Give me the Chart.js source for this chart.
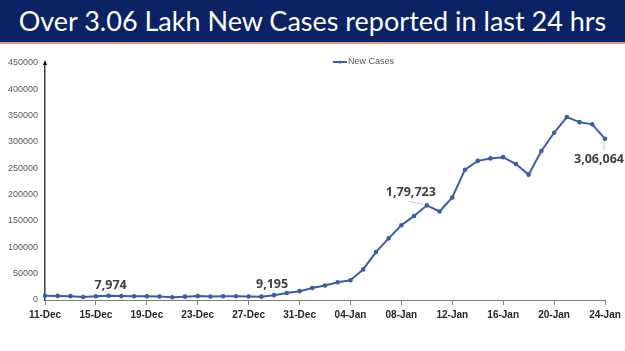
<!DOCTYPE html>
<html>
<head>
<meta charset="utf-8">
<script src="https://cdn.jsdelivr.net/npm/chart.js@4/dist/chart.umd.min.js"></script>
<style>
  body { margin:0; width:625px; height:351px; background:#fff; overflow:hidden; }
  #banner { position:absolute; left:0; top:0; width:625px; height:42px; background:#0b2265;
    border-bottom:2px solid #e39b7d; color:#fff; font-family:Lato, sans-serif; font-size:27px;
    line-height:42px; text-align:center; white-space:nowrap; }
  #box { position:absolute; left:0; top:44px; width:625px; height:307px; }
</style>
</head>
<body>
<div id="banner">Over 3.06 Lakh New Cases reported in last 24 hrs</div>
<div id="box"><canvas id="c"></canvas></div>
<script>
// dates, one per day
var dates = ['11-Dec','12-Dec','13-Dec','14-Dec','15-Dec','16-Dec','17-Dec','18-Dec','19-Dec','20-Dec',
  '21-Dec','22-Dec','23-Dec','24-Dec','25-Dec','26-Dec','27-Dec','28-Dec','29-Dec','30-Dec','31-Dec',
  '01-Jan','02-Jan','03-Jan','04-Jan','05-Jan','06-Jan','07-Jan','08-Jan','09-Jan','10-Jan','11-Jan',
  '12-Jan','13-Jan','14-Jan','15-Jan','16-Jan','17-Jan','18-Jan','19-Jan','20-Jan','21-Jan','22-Jan',
  '23-Jan','24-Jan']
var newCases = [7992,7774,7350,5784,6984,7974,7447,7145,7081,6563,
  5326,6317,7495,6650,7189,6987,6531,6358,9195,13154,16764,
  22775,27553,33750,37379,58097,90928,117100,141986,159632,179723,168063,
  194720,247417,264202,268833,271202,258089,238018,282970,317532,347254,337704,
  333533,306064]
// called-out points
var calloutIdx = [5,18,30,44]
var calloutText = ['7,974','9,195','1,79,723','3,06,064']

var blue = '#3d5ca8'

var extras = {
  id:'extras',
  afterDraw:function(chart){
    var ctx = chart.ctx, x = chart.scales.x, y = chart.scales.y, a = chart.chartArea
    ctx.save()
    // arrow at top of value axis
    ctx.fillStyle = '#000'
    ctx.beginPath()
    ctx.moveTo(a.left, a.top-3); ctx.lineTo(a.left-2, a.top+2); ctx.lineTo(a.left+2, a.top+2)
    ctx.closePath(); ctx.fill()
    // legend
    var lx = 333, ly = 18
    ctx.strokeStyle = blue; ctx.lineWidth = 2
    ctx.beginPath(); ctx.moveTo(lx, ly); ctx.lineTo(lx+14, ly); ctx.stroke()
    ctx.fillStyle = blue
    ctx.beginPath(); ctx.arc(lx+7, ly, 1.5, 0, Math.PI*2); ctx.fill()
    ctx.fillStyle = '#595959'; ctx.font = '9px "Liberation Sans"'
    ctx.textBaseline = 'middle'; ctx.textAlign = 'left'
    ctx.fillText(chart.data.datasets[0].label, lx+15, ly)
    // data callouts
    var offs = [[2,-10],[-2,-11],[-16,-13],[-6,21]]
    ctx.font = 'bold 12.5px "Open Sans"'; ctx.textAlign = 'center'
    calloutIdx.forEach(function(idx, i){
      var px = x.getPixelForValue(idx), py = y.getPixelForValue(newCases[idx])
      var tx = px + offs[i][0], ty = py + offs[i][1]
      if (i >= 2) {
        ctx.strokeStyle = '#c8c8c8'; ctx.lineWidth = 1
        ctx.beginPath()
        if (i == 2) { ctx.moveTo(tx-2, ty+9); ctx.lineTo(px-3, py-1) }
        else { ctx.moveTo(tx+5, ty-9); ctx.lineTo(px-1, py+2) }
        ctx.stroke()
      }
      ctx.fillStyle = '#404040'
      ctx.fillText(calloutText[i], tx, ty)
    })
    ctx.restore()
  }
}

new Chart(document.getElementById('c'), {
  type:'line',
  data:{
    labels:dates,
    datasets:[{
      label:'New Cases',
      data:newCases,
      borderColor:blue,
      backgroundColor:blue,
      borderWidth:2,
      pointRadius:1.3,
      pointHoverRadius:1.3,
      tension:0
    }]
  },
  options:{
    responsive:true,
    maintainAspectRatio:false,
    animation:false,
    layout:{ padding:{ top:19, right:20, left:0, bottom:0 } },
    plugins:{ legend:{ display:false }, tooltip:{ enabled:false } },
    scales:{
      x:{
        offset:false,
        border:{ color:'#7f7f7f', width:1 },
        grid:{ drawOnChartArea:false, tickLength:5,
          color:function(c){ return c.index % 4 == 0 ? '#7f7f7f' : 'rgba(0,0,0,0)' } },
        ticks:{ autoSkip:false, maxRotation:0, padding:4, color:'#262626',
          font:{ family:'Liberation Sans', size:10, weight:'bold' },
          callback:function(v, i){ return i % 4 == 0 ? dates[i] : '' } },
        afterFit:function(s){ s.height = 51 }
      },
      y:{
        min:0, max:450000,
        border:{ color:'#404040', width:1.5 },
        grid:{ display:false, drawTicks:false },
        ticks:{ stepSize:50000, padding:7, color:'#595959',
          font:{ family:'Liberation Sans', size:9 },
          callback:function(v){ return String(v) } },
        afterFit:function(s){ s.width = 45 }
      }
    }
  },
  plugins:[extras]
})
</script>
</body>
</html>
